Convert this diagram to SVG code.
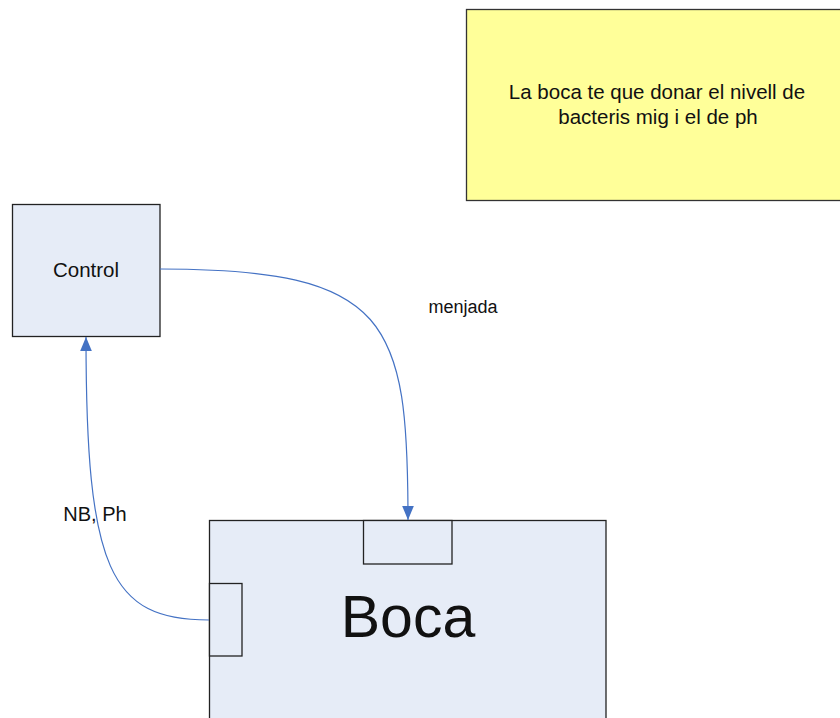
<svg xmlns="http://www.w3.org/2000/svg" width="840" height="718" viewBox="0 0 840 718">
<style>
.box{fill:#E6ECF7;stroke:#222;stroke-width:1.3}
.note{fill:#FFFF99;stroke:#333;stroke-width:1.3}
.t{font-family:"Liberation Sans",Arial,sans-serif;fill:#111}
.c{fill:none;stroke:#4472C4;stroke-width:1.2}
</style>
<defs>
<marker id="ah" markerWidth="14" markerHeight="14" refX="12" refY="5" orient="auto" markerUnits="userSpaceOnUse" viewBox="0 0 12 10">
<path d="M0,0 L12,5 L0,10 Z" fill="#4472C4"/>
</marker>
</defs>
<rect width="840" height="718" fill="#fff"/>
<g id="note">
<rect class="note" x="466.5" y="9.5" width="380" height="191"/>
<text class="t" x="657" y="99" font-size="20.5" text-anchor="middle">La boca te que donar el nivell de</text>
<text class="t" x="658" y="124" font-size="20.5" text-anchor="middle">bacteris mig i el de ph</text>
</g>
<g id="control">
<rect class="box" x="12.5" y="204.5" width="147.5" height="132"/>
<text class="t" x="86" y="277" font-size="20.5" text-anchor="middle">Control</text>
</g>
<g id="boca">
<rect class="box" x="209.5" y="520.5" width="396.5" height="210"/>
<rect class="box" x="363.5" y="520.5" width="88.5" height="43.5"/>
<rect class="box" x="209.5" y="583.5" width="32.5" height="72.5"/>
<text class="t" x="408" y="637" font-size="59" text-anchor="middle">Boca</text>
</g>
<g id="connectors">
<path class="c" d="M160,269 C390,269 408,320 408,520" marker-end="url(#ah)"/>
<path class="c" d="M209,620 C110,620 86,570 86,337" marker-end="url(#ah)"/>
<text class="t" x="463" y="313" font-size="18" text-anchor="middle">menjada</text>
<text class="t" x="95" y="521" font-size="20" text-anchor="middle">NB, Ph</text>
</g>
</svg>
